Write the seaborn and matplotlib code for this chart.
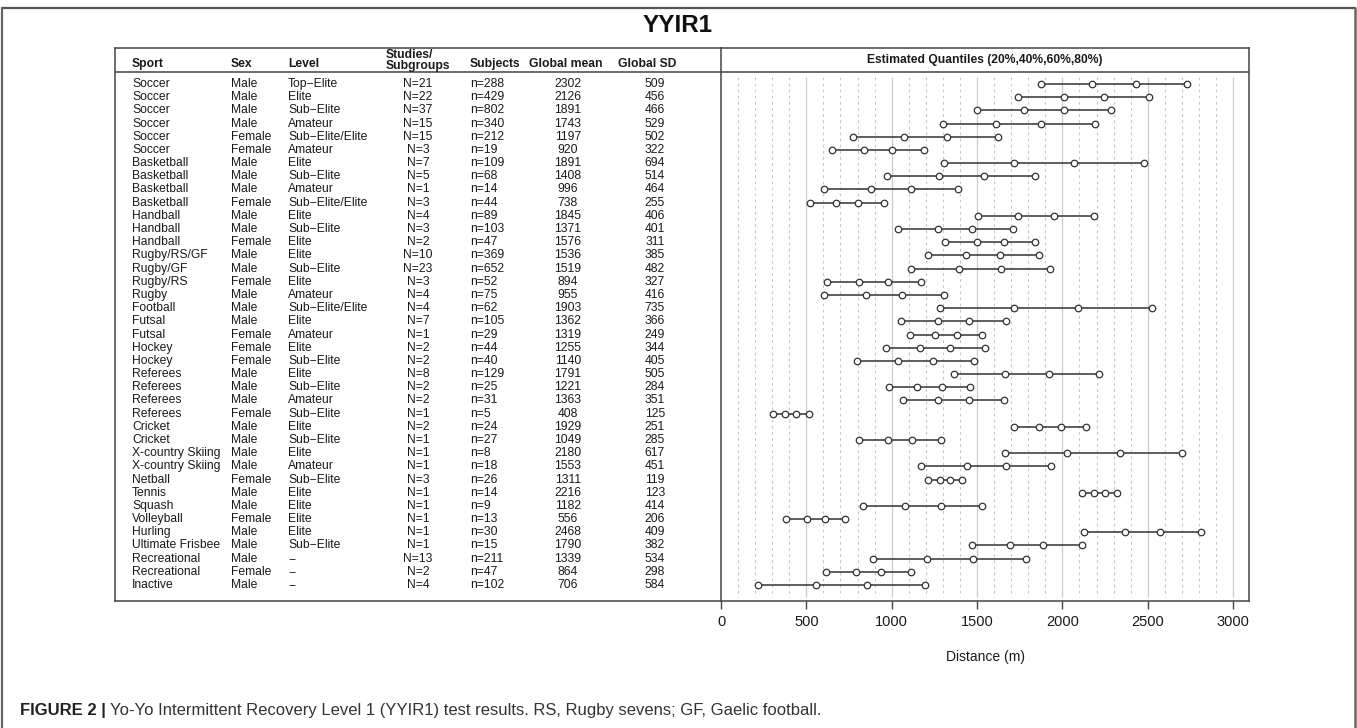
import matplotlib
matplotlib.use("Agg")
import matplotlib.pyplot as plt
import matplotlib.lines as mlines
import pandas as pd
import seaborn as sns

# table data
sport = ["Soccer", "Soccer", "Soccer", "Soccer", "Soccer", "Soccer",
         "Basketball", "Basketball", "Basketball", "Basketball",
         "Handball", "Handball", "Handball", "Rugby/RS/GF", "Rugby/GF", "Rugby/RS", "Rugby",
         "Football", "Futsal", "Futsal", "Hockey", "Hockey",
         "Referees", "Referees", "Referees", "Referees", "Cricket", "Cricket",
         "X-country Skiing", "X-country Skiing", "Netball", "Tennis", "Squash", "Volleyball",
         "Hurling", "Ultimate Frisbee", "Recreational", "Recreational", "Inactive"]
sex = ["Male", "Male", "Male", "Male", "Female", "Female",
       "Male", "Male", "Male", "Female",
       "Male", "Male", "Female", "Male", "Male", "Female", "Male",
       "Male", "Male", "Female", "Female", "Female",
       "Male", "Male", "Male", "Female", "Male", "Male",
       "Male", "Male", "Female", "Male", "Male", "Female",
       "Male", "Male", "Male", "Female", "Male"]
level = ["Top−Elite", "Elite", "Sub−Elite", "Amateur", "Sub−Elite/Elite", "Amateur",
         "Elite", "Sub−Elite", "Amateur", "Sub−Elite/Elite",
         "Elite", "Sub−Elite", "Elite", "Elite", "Sub−Elite", "Elite", "Amateur",
         "Sub−Elite/Elite", "Elite", "Amateur", "Elite", "Sub−Elite",
         "Elite", "Sub−Elite", "Amateur", "Sub−Elite", "Elite", "Sub−Elite",
         "Elite", "Amateur", "Sub−Elite", "Elite", "Elite", "Elite",
         "Elite", "Sub−Elite", "−", "−", "−"]
studies = [21, 22, 37, 15, 15, 3, 7, 5, 1, 3, 4, 3, 2, 10, 23, 3, 4, 4, 7, 1, 2, 2,
           8, 2, 2, 1, 2, 1, 1, 1, 3, 1, 1, 1, 1, 1, 13, 2, 4]
subjects = [288, 429, 802, 340, 212, 19, 109, 68, 14, 44, 89, 103, 47, 369, 652, 52, 75,
            62, 105, 29, 44, 40, 129, 25, 31, 5, 24, 27, 8, 18, 26, 14, 9, 13, 30, 15,
            211, 47, 102]
global_mean = [2302, 2126, 1891, 1743, 1197, 920, 1891, 1408, 996, 738, 1845, 1371, 1576,
               1536, 1519, 894, 955, 1903, 1362, 1319, 1255, 1140, 1791, 1221, 1363, 408,
               1929, 1049, 2180, 1553, 1311, 2216, 1182, 556, 2468, 1790, 1339, 864, 706]
global_sd = [509, 456, 466, 529, 502, 322, 694, 514, 464, 255, 406, 401, 311, 385, 482,
             327, 416, 735, 366, 249, 344, 405, 505, 284, 351, 125, 251, 285, 617, 451,
             119, 123, 414, 206, 409, 382, 534, 298, 584]

# estimated quantiles
q20 = [1874, 1742, 1499, 1298, 775, 649, 1307, 975, 606, 523, 1503, 1034, 1314, 1212,
       1113, 619, 605, 1284, 1054, 1109, 966, 799, 1366, 982, 1068, 303, 1718, 809,
       1661, 1173, 1211, 2112, 834, 383, 2124, 1469, 890, 613, 215]
q40 = [2173, 2011, 1773, 1609, 1070, 838, 1715, 1278, 878, 673, 1742, 1269, 1497, 1438,
       1397, 811, 850, 1717, 1269, 1256, 1168, 1037, 1663, 1149, 1274, 376, 1865, 977,
       2024, 1439, 1281, 2185, 1077, 504, 2364, 1693, 1204, 788, 558]
q60 = [2431, 2242, 2009, 1877, 1324, 1002, 2067, 1538, 1114, 803, 1948, 1473, 1655, 1634,
       1641, 977, 1060, 2089, 1455, 1382, 1342, 1243, 1919, 1293, 1452, 440, 1993, 1121,
       2336, 1667, 1341, 2247, 1287, 608, 2572, 1887, 1474, 940, 854]
q80 = [2730, 2510, 2283, 2188, 1620, 1191, 2475, 1841, 1387, 953, 2187, 1709, 1838, 1860,
       1925, 1169, 1305, 2522, 1670, 1529, 1545, 1481, 2216, 1460, 1658, 513, 2140, 1289,
       2699, 1933, 1411, 2320, 1530, 729, 2812, 2112, 1788, 1115, 1197]

x_ticks = [0, 500, 1000, 1500, 2000, 2500, 3000]

df = pd.DataFrame({"sport": sport, "sex": sex, "level": level, "studies": studies,
                   "subjects": subjects, "mean": global_mean, "sd": global_sd,
                   "q20": q20, "q40": q40, "q60": q60, "q80": q80})
df["row"] = range(len(df))
long = df.melt(id_vars="row", value_vars=["q20", "q40", "q60", "q80"],
               var_name="quantile", value_name="value")

sns.set_style("white")
plt.rcParams["font.family"] = ["Liberation Sans", "DejaVu Sans"]

W, H = 1357, 728
fig = plt.figure(figsize=(W / 100, H / 100), dpi=100)


def fx(px):
    return px / W


def fy(py):
    return 1 - py / H


box_top, box_bot = 48, 601
left_x, div_x, right_x = 115, 721, 1249
ax_t = fig.add_axes([fx(left_x), fy(box_bot), (div_x - left_x) / W, (box_bot - box_top) / H])
ax = fig.add_axes([fx(div_x), fy(box_bot), (right_x - div_x) / W, (box_bot - box_top) / H],
                  sharey=ax_t)

ylim = (39.21, -2.73)
header_y = -0.91
edge = "#444444"
txt = "#1a1a1a"

# ---- table panel
ax_t.set_xlim(left_x, div_x)
ax_t.set_ylim(*ylim)
for s in ["left", "top", "bottom"]:
    ax_t.spines[s].set_color(edge)
    ax_t.spines[s].set_linewidth(1.1)
ax_t.spines["right"].set_visible(False)
ax_t.set_xticks([])
ax_t.set_yticks([])
ax_t.axhline(header_y, color=edge, lw=1.1)

fs = 8.7
hy = -1.52
ax_t.text(132, hy, "Sport", weight="bold", fontsize=fs, va="center", color=txt)
ax_t.text(231, hy, "Sex", weight="bold", fontsize=fs, va="center", color=txt)
ax_t.text(288, hy, "Level", weight="bold", fontsize=fs, va="center", color=txt)
ax_t.text(386, -2.18, "Studies/", weight="bold", fontsize=fs, va="center", color=txt)
ax_t.text(386, -1.40, "Subgroups", weight="bold", fontsize=fs, va="center", color=txt)
ax_t.text(470, hy, "Subjects", weight="bold", fontsize=fs, va="center", color=txt)
ax_t.text(566, hy, "Global mean", weight="bold", fontsize=fs, va="center", ha="center", color=txt)
ax_t.text(647, hy, "Global SD", weight="bold", fontsize=fs, va="center", ha="center", color=txt)

for r in df.itertuples():
    y = r.row
    ax_t.text(132, y, r.sport, fontsize=fs, va="center", color=txt)
    ax_t.text(231, y, r.sex, fontsize=fs, va="center", color=txt)
    ax_t.text(288, y, r.level, fontsize=fs, va="center", color=txt)
    ax_t.text(418, y, f"N={r.studies}", fontsize=fs, va="center", ha="center", color=txt)
    ax_t.text(470, y, f"n={r.subjects}", fontsize=fs, va="center", color=txt)
    ax_t.text(568, y, f"{r.mean}", fontsize=fs, va="center", ha="center", color=txt)
    ax_t.text(655, y, f"{r.sd}", fontsize=fs, va="center", ha="center", color=txt)

# ---- quantile panel
ax.set_xlim(0, 3093)
for s in ax.spines.values():
    s.set_color(edge)
    s.set_linewidth(1.1)
ax.axhline(header_y, color=edge, lw=1.1)

g_top, g_bot = -0.55, 38.9
for v in range(100, 3001, 100):
    if v % 500 == 0:
        ax.vlines(v, g_top, g_bot, color="#cccccc", lw=0.9, zorder=1)
    else:
        ax.vlines(v, g_top, g_bot, color="#c8c8c8", lw=0.8, linestyles=(0, (2.5, 3)), zorder=1)

ax.hlines(df["row"], df["q20"], df["q80"], color="#333333", lw=1.1, zorder=2)
sns.scatterplot(data=long, x="value", y="row", ax=ax, marker="o", s=22,
                color="white", edgecolor="#333333", linewidth=0.9, zorder=3, legend=False)

ax.text(1547, -1.82, "Estimated Quantiles (20%,40%,60%,80%)", weight="bold",
        fontsize=fs, ha="center", va="center", color=txt)

ax.set_xticks(x_ticks)
ax.set_xticklabels([str(t) for t in x_ticks])
ax.tick_params(axis="x", bottom=True, length=6, width=1, color=edge, labelsize=10.5,
               pad=4, labelcolor=txt)
ax.tick_params(axis="y", left=False, labelleft=False)
ax.set_ylabel("")
ax.set_xlabel("Distance (m)", fontsize=10, color=txt, labelpad=15)
ax.set_ylim(*ylim)

# ---- title and caption
fig.text(fx(678), fy(25), "YYIR1", weight="bold", fontsize=17.5, ha="center", va="center",
         color="#111111")

frame = "#666666"
fig.add_artist(mlines.Line2D([fx(2), fx(1355)], [fy(8), fy(8)], color="#555555", lw=1.6))
fig.add_artist(mlines.Line2D([fx(2), fx(2)], [fy(8), 0], color=frame, lw=1.6))
fig.add_artist(mlines.Line2D([fx(1355), fx(1355)], [fy(8), 0], color=frame, lw=1.8))

t1 = fig.text(fx(20), fy(710), "FIGURE 2 |", weight="bold", fontsize=12, va="center",
              color="#222222")
fig.canvas.draw()
bb = t1.get_window_extent()
fig.text((bb.x1 + 4) / W, fy(710),
         "Yo-Yo Intermittent Recovery Level 1 (YYIR1) test results. RS, Rugby sevens; GF, Gaelic football.",
         fontsize=12, va="center", color="#333333")

fig.savefig("out.png", dpi=100)
